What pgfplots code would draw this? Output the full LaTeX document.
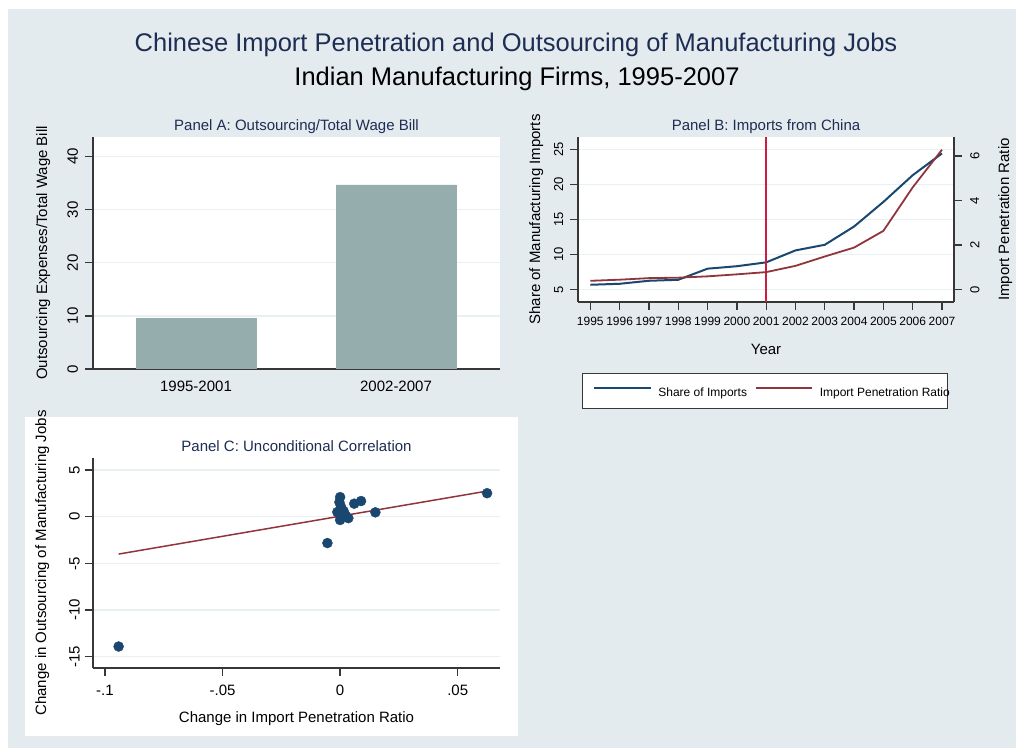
\documentclass[border=0pt]{standalone}
\usepackage{fontspec}
\setmainfont{Liberation Sans}
\usepackage{pgfplots}
\pgfplotsset{compat=1.18}
\definecolor{bgc}{RGB}{228,235,239}
\definecolor{titlec}{RGB}{30,45,83}
\definecolor{barc}{RGB}{149,173,172}
\definecolor{navyc}{RGB}{26,71,111}
\definecolor{maroonc}{RGB}{144,53,59}
\definecolor{redc}{RGB}{205,30,65}
\definecolor{gridc}{RGB}{232,240,242}
\definecolor{axisc}{RGB}{55,55,55}
\newcommand{\fs}[1]{\fontsize{#1bp}{#1bp}\selectfont}

\pgfplotsset{
  stata/.style={
    scale only axis,
    axis x line*=bottom, axis y line*=left,
    axis line style={-, draw=axisc, line width=1.3bp},
    axis background/.style={fill=white},
    tick align=outside,
    major tick length=8bp,
    tick style={draw=axisc, line width=1.3bp},
    ymajorgrids,
    grid style={draw=gridc, line width=1.3bp},
    tick label style={font=\fs{15}, text=black, inner sep=0pt},
    /pgf/number format/assume math mode=true,
    /pgf/number format/1000 sep={},
    every axis title/.style={at={(axis description cs:0.5,1)}, anchor=base, yshift=6.3bp, font=\fs{15}, text=titlec, inner sep=0pt},
    every axis label/.style={font=\fs{15}, text=black, inner sep=0pt},
  }
}

\begin{document}
\begin{tikzpicture}[x=1bp,y=1bp]
% backgrounds
\fill[white] (0,0) rectangle (1016,748);
\fill[bgc] (8,0) rectangle (1016,739);
\fill[white] (25,12) rectangle (518,331);

% main title
\node[anchor=base, font=\fs{25.5}, text=titlec, inner sep=0pt] at (516,696.3) {Chinese Import Penetration and Outsourcing of Manufacturing Jobs};
\node[anchor=base, font=\fs{25.5}, text=black, inner sep=0pt] at (517,662) {Indian Manufacturing Firms, 1995-2007};

% ---------------- Panel A ----------------
\begin{axis}[stata,
  at={(93bp,379bp)}, anchor=south west,
  width=407bp, height=232bp,
  xmin=-0.515, xmax=1.52, ymin=0, ymax=43.7,
  xtick={0,1}, xticklabels={1995-2001,2002-2007},
  x tick style={draw=none},
  xticklabel style={anchor=base, yshift=-14.7bp},
  ytick={0,10,20,30,40},
  yticklabel style={rotate=90, anchor=south, inner ysep=6.7bp},
  title={Panel A: Outsourcing/Total Wage Bill},
  every axis y label/.style={at={(axis description cs:-0.140,0.5)}, rotate=90, anchor=north, font=\fs{15}, inner sep=0pt},
  ylabel={Outsourcing Expenses/Total Wage Bill},
]
\addplot[ybar, bar width=0.6, bar shift=0pt, fill=barc, draw=barc] coordinates {(0,9.6) (1,34.7)};
\end{axis}

% ---------------- Panel B (left axis) ----------------
\begin{axis}[stata,
  at={(578bp,446bp)}, anchor=south west,
  width=376bp, height=165bp,
  xmin=1994.58, xmax=2007.41, ymin=3.26, ymax=26.74,
  xtick={1995,1996,...,2007},
  xticklabel style={font=\fs{12}, anchor=base, yshift=-15.7bp},
  ytick={5,10,15,20,25},
  yticklabel style={font=\fs{13}, rotate=90, anchor=south, inner ysep=6.7bp},
  title={Panel B: Imports from China},
  every axis y label/.style={at={(axis description cs:-0.130,0.5)}, rotate=90, anchor=north, font=\fs{15}, inner sep=0pt},
  ylabel={Share of Manufacturing Imports},
  every axis x label/.style={at={(axis description cs:0.5,0)}, anchor=base, yshift=-52.7bp, font=\fs{15}, inner sep=0pt},
  xlabel={Year},
]
\addplot[navyc, line width=2bp] coordinates {
(1995,5.71) (1996,5.85) (1997,6.28) (1998,6.42) (1999,8.0) (2000,8.35) (2001,8.9)
(2002,10.6) (2003,11.4) (2004,14.0) (2005,17.5) (2006,21.3) (2007,24.4)};
\addplot[redc, line width=2bp] coordinates {(2001,3.26) (2001,26.74)};
\end{axis}

% ---------------- Panel B (right axis) ----------------
\begin{axis}[stata,
  at={(578bp,446bp)}, anchor=south west,
  width=376bp, height=165bp,
  axis background/.style={},
  axis x line=none, axis y line*=right,
  ymajorgrids=false,
  xmin=1994.58, xmax=2007.41, ymin=-0.55, ymax=6.85,
  xtick=\empty,
  ytick={0,2,4,6},
  yticklabel style={font=\fs{13}, rotate=90, anchor=north, inner ysep=8bp},
  every axis y label/.style={at={(axis description cs:1.117,0.5)}, rotate=90, anchor=north, font=\fs{15}, inner sep=0pt},
  ylabel={Import Penetration Ratio},
  legend style={at={(axis description cs:0.0106,-0.4303)}, anchor=north west,
    draw=axisc, line width=1.3bp, fill=white, inner xsep=10.7bp, inner ysep=9.5bp,
    font=\fs{12}, text=black,
    nodes={inner sep=0pt, text height=13.5bp, text depth=2.5bp},
    /tikz/every odd column/.append style={column sep=6.4bp},
    /tikz/every even column/.append style={column sep=7.9bp}},
  legend columns=-1,
  legend cell align=left,
  legend image code/.code={\draw[#1] (0bp,3.4bp) -- (56.6bp,3.4bp);},
]
\addlegendimage{navyc, line width=2bp}
\addlegendentry{Share of Imports}
\addplot[maroonc, line width=1.8bp] coordinates {
(1995,0.40) (1996,0.45) (1997,0.52) (1998,0.54) (1999,0.60) (2000,0.69) (2001,0.79)
(2002,1.07) (2003,1.49) (2004,1.89) (2005,2.64) (2006,4.59) (2007,6.28)};
\addlegendentry{\makebox[117.3bp][l]{Import Penetration Ratio}}
\end{axis}

% ---------------- Panel C ----------------
\begin{axis}[stata,
  at={(93bp,80bp)}, anchor=south west,
  width=407bp, height=210bp,
  xmin=-0.1051, xmax=0.068, ymin=-16.2, ymax=6.29,
  xtick={-0.1,-0.05,0,0.05}, xticklabels={-.1,-.05,0,.05},
  xticklabel style={anchor=base, yshift=-19.7bp},
  ytick={-15,-10,-5,0,5}, yticklabels={-15,-10,-5,0,5},
  yticklabel style={rotate=90, anchor=south, inner ysep=5bp},
  title={Panel C: Unconditional Correlation},
  every axis y label/.style={at={(axis description cs:-0.1425,0.5)}, rotate=90, anchor=north, font=\fs{15}, inner sep=0pt},
  ylabel={Change in Outsourcing of Manufacturing Jobs},
  every axis x label/.style={at={(axis description cs:0.5,0)}, anchor=base, yshift=-54.4bp, font=\fs{15}, inner sep=0pt},
  xlabel={Change in Import Penetration Ratio},
]
\addplot[only marks, mark=*, mark size=5bp, navyc, mark options={fill=navyc, draw=navyc}] coordinates {
(-0.0942,-13.9) (-0.0054,-2.82) (0.0625,2.52) (0.0150,0.47) (0.0089,1.68) (0.0060,1.40)
(0.0000,2.10) (-0.0003,1.55) (0.0004,1.05) (-0.0012,0.50) (0.0008,0.20) (0.0000,-0.35)
(0.0035,-0.15) (0.0015,0.60) (0.0025,0.10)};
\addplot[maroonc, line width=1.5bp] coordinates {(-0.0942,-4.0) (0.0626,2.75)};
\end{axis}

\pgfresetboundingbox
\useasboundingbox (0,0) rectangle (1016,748);
\end{tikzpicture}
\end{document}
